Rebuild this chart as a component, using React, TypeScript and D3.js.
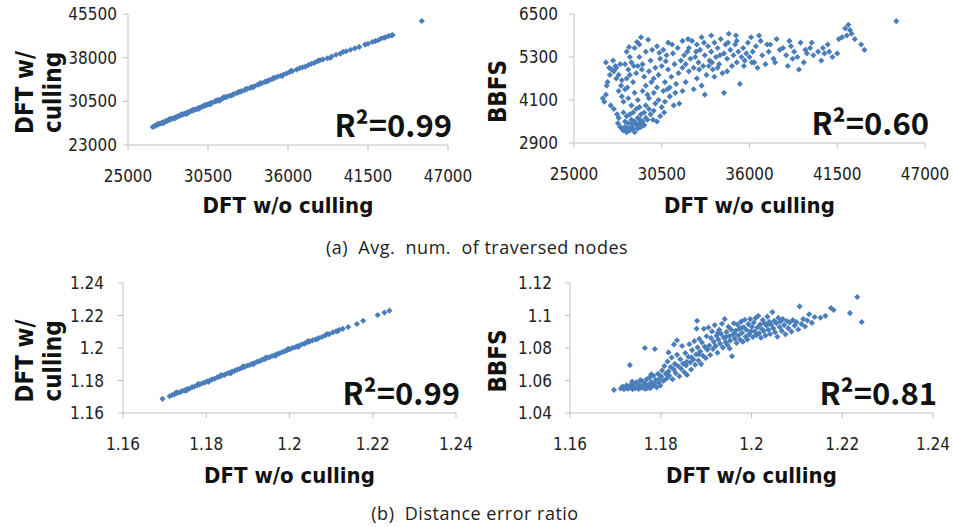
import React from "react";
import * as d3 from "d3";

// (a) average number of traversed nodes
const nodesXTicks = [25000, 30500, 36000, 41500, 47000];
const nodesCullYTicks = [23000, 30500, 38000, 45500];
const nodesBbfsYTicks = [2900, 4100, 5300, 6500];

const nodesCulling: [number, number][] = [
  [26700, 26100], [26800, 26250], [26900, 26300], [27000, 26500], [27100, 26550], [27200, 26700],
  [27300, 26750], [27400, 26900], [27500, 26950], [27600, 27100], [27700, 27150], [27800, 27300],
  [27900, 27350], [28000, 27500], [28100, 27550], [28200, 27700], [28300, 27750], [28400, 27900],
  [28500, 27950], [28600, 28100], [28700, 28150], [28800, 28300], [28900, 28350], [29000, 28500],
  [29100, 28600], [29200, 28650], [29300, 28800], [29400, 28900], [29500, 28950], [29600, 29100],
  [29700, 29150], [29800, 29300], [29900, 29400], [30000, 29450], [30100, 29600], [30200, 29650],
  [30300, 29800], [30400, 29900], [30500, 29950], [30600, 30100], [30700, 30200], [30800, 30250],
  [31000, 30500], [31100, 30550], [31200, 30750], [31400, 30850], [31500, 31000], [31700, 31150],
  [31800, 31300], [32000, 31450], [32200, 31650], [32300, 31750], [32500, 31950], [32700, 32150],
  [32800, 32250], [33000, 32400], [33200, 32650], [33400, 32800], [33500, 32950], [33700, 33100],
  [33900, 33350], [34000, 33400], [34200, 33600], [34400, 33850], [34500, 33900], [34700, 34150],
  [34900, 34300], [35100, 34500], [35300, 34750], [35500, 34900], [35700, 35100], [35900, 35300],
  [36100, 35500], [36300, 35700], [36600, 35950], [36800, 36200], [37000, 36350], [37400, 36750],
  [37600, 36950], [37800, 37100], [38000, 37350], [38200, 37550], [38400, 37700], [38700, 37900],
  [39000, 38200], [39300, 38500], [39600, 38700], [40000, 39100], [40300, 39350], [40600, 39600],
  [40900, 39850], [41500, 40400], [41800, 40700], [42000, 40850], [42200, 41000], [42400, 41300],
  [42700, 41500], [42900, 41700], [43100, 41800], [43200, 41900], [45200, 44300],
  [27050, 26650], [27450, 26750], [27850, 27450], [28250, 27600], [28650, 28250], [29050, 28350],
  [29450, 29050], [29850, 29200], [30250, 29800], [30650, 29950], [31050, 30650], [31300, 30600],
  [31600, 31250], [32100, 31500], [32600, 32100], [33100, 32600], [33600, 32900], [34100, 33650],
  [34600, 33950], [35000, 34550], [35600, 34850], [36200, 35750], [37200, 36450], [38100, 37500],
  [38900, 37950], [39800, 39000], [41300, 40250], [42600, 41400],
];

const nodesBbfs: [number, number][] = [
  [26800, 4150], [26900, 4050], [27000, 4250], [27050, 4500], [27100, 4600], [27000, 5150],
  [27200, 5000], [27350, 4950], [27450, 5200], [27500, 4900], [27600, 5050], [27300, 3950],
  [27500, 3850], [27700, 3700], [27800, 3600], [27750, 3450], [27900, 3350], [27650, 4700],
  [27800, 4800], [27900, 5100],
  [28000, 3300], [28100, 3250], [28200, 3350], [28300, 3200], [28400, 3300], [28500, 3250],
  [28600, 3350], [28700, 3300], [28800, 3200], [28900, 3400], [29000, 3300], [29100, 3450],
  [29200, 3350], [29300, 3500], [29400, 3400], [29500, 3600], [28200, 3500], [28400, 3450],
  [28600, 3550], [28800, 3500], [29000, 3600], [29200, 3700], [28300, 3650], [28500, 3700],
  [28700, 3750], [29400, 3750], [29600, 3550], [29800, 3700], [29700, 3850], [30000, 3800],
  [30200, 3500], [30400, 3650], [28100, 3750], [28900, 3850], [29100, 3900], [29500, 3950],
  [30100, 4000], [30500, 3900],
  [28000, 4200], [28100, 4050], [28200, 4400], [28300, 4700], [28400, 4950], [28200, 5100],
  [28500, 5300], [28600, 5150], [28700, 4600], [28800, 4300], [28900, 4850], [29000, 5050],
  [28800, 5550], [29100, 5300], [29200, 5850], [29300, 5100], [29400, 4750], [29500, 4500],
  [29600, 4250], [29700, 4900], [29800, 5200], [29900, 5500], [30000, 4700], [30100, 5000],
  [30200, 4450], [30300, 4800], [30400, 5250], [30500, 5050], [30600, 4350], [30700, 4600],
  [30800, 5350], [30900, 4950], [31000, 4200], [31100, 4750], [31200, 5400], [31300, 5100],
  [31400, 4550], [31500, 5550], [28400, 4150], [28600, 3950], [29000, 4100], [29300, 4350],
  [29700, 4150], [30000, 4300], [30300, 4100], [30700, 4050], [31000, 4450], [31600, 4000],
  [31800, 4350], [29100, 5650], [29500, 5450], [30200, 5600], [30600, 5500], [28300, 5450],
  [27800, 4350], [28000, 4650], [28500, 4800], [30900, 5700], [31800, 5000],
  [31700, 5200], [31900, 5350], [32000, 5100], [32100, 5450], [32200, 4900], [32300, 5250],
  [32400, 5750], [32500, 5000], [32600, 5300], [32700, 4700], [32800, 5150], [32900, 5500],
  [33000, 5850], [33100, 5050], [33200, 5350], [33300, 4800], [33400, 5600], [33500, 5200],
  [33600, 5450], [33700, 4950], [33800, 5700], [33900, 5300], [34000, 5550], [34100, 5100],
  [34200, 5800], [34300, 4850], [34400, 5400], [34500, 5650], [34600, 5250], [34700, 5950],
  [34800, 5500], [34900, 5050], [35000, 5350], [35100, 5650], [35200, 5150], [35300, 5450],
  [35400, 4550], [35500, 5300], [35600, 5550], [35700, 5200], [35800, 5400], [35900, 5700],
  [36000, 5300], [32000, 4600], [32500, 4400], [33000, 4500], [33800, 4750], [34400, 4300],
  [33200, 4250], [34600, 4900], [33600, 5900], [32700, 5650], [31800, 5750], [32200, 5550],
  [35200, 5750], [34000, 5000],
  [36100, 5850], [36200, 5450], [36300, 5150], [36400, 5600], [36500, 5000], [36700, 5750],
  [36800, 5350], [37000, 5100], [37200, 5450], [37300, 5650], [37500, 5250], [37700, 5800],
  [37900, 5500], [38100, 5550], [38300, 5350], [38400, 5050], [38600, 5600], [38800, 5450],
  [39000, 5300], [39200, 5700], [39400, 5150], [39600, 5400], [39800, 5550], [40000, 5350],
  [40300, 5450], [40500, 5200], [40700, 5400], [40900, 5650], [41200, 5300], [41500, 5400],
  [41600, 5800], [41800, 5850], [42000, 6100], [42100, 5900], [42200, 6200], [42300, 6050],
  [42400, 5950], [42600, 5800], [43000, 5650], [43200, 5500], [45200, 6300], [38500, 5750],
  [39900, 5700], [40600, 5550], [41000, 5450], [37600, 5150], [36600, 5900], [39100, 4950],
  [28450, 5580], [28950, 5720], [29650, 5780], [30350, 5420], [30750, 5180], [31150, 5650],
  [31550, 4850], [31350, 4300], [30850, 4400], [29850, 4600], [29250, 4950], [28750, 5050],
  [28350, 4450], [27950, 4500], [32150, 5800], [32650, 5450], [33150, 5700], [33650, 5150],
  [34150, 5350], [34650, 5700], [35150, 5900], [35650, 5050], [36150, 5150], [33450, 5050],
  [32850, 4950], [31250, 3950], [30650, 3750], [29950, 3550], [28650, 3450], [29150, 3550],
  [27650, 5000], [27250, 4800], [38700, 5250], [37100, 5650], [39500, 5500],
];

// (b) distance error ratio
const ratioXTicks = [1.16, 1.18, 1.2, 1.22, 1.24];
const ratioCullYTicks = [1.16, 1.18, 1.2, 1.22, 1.24];
const ratioBbfsYTicks = [1.04, 1.06, 1.08, 1.1, 1.12];

const ratioCulling: [number, number][] = [
  [1.1695, 1.1687], [1.1712, 1.1703], [1.1718, 1.1711], [1.1724, 1.1715], [1.173, 1.1723],
  [1.1736, 1.1727], [1.1742, 1.1735], [1.1748, 1.1739], [1.1754, 1.1747], [1.176, 1.1751],
  [1.1766, 1.1759], [1.1772, 1.1763], [1.1778, 1.1771], [1.1784, 1.1775], [1.179, 1.1783],
  [1.1796, 1.1787], [1.1802, 1.1795], [1.1808, 1.1799], [1.1814, 1.1807], [1.182, 1.1811],
  [1.1826, 1.1819], [1.1832, 1.1823], [1.1838, 1.1831], [1.1844, 1.1835], [1.185, 1.1843],
  [1.1856, 1.1847], [1.1862, 1.1855], [1.1868, 1.1859], [1.1874, 1.1867], [1.188, 1.1871],
  [1.1886, 1.1879], [1.1892, 1.1883], [1.1898, 1.1891], [1.1904, 1.1895], [1.191, 1.1903],
  [1.1916, 1.1907], [1.1922, 1.1915], [1.1928, 1.1919], [1.1934, 1.1927], [1.194, 1.1931],
  [1.1946, 1.1939], [1.1952, 1.1943], [1.1958, 1.1951], [1.1964, 1.1955], [1.197, 1.1963],
  [1.1976, 1.1967], [1.1982, 1.1975], [1.1988, 1.1979], [1.1994, 1.1987], [1.2, 1.1991],
  [1.2006, 1.1999], [1.2012, 1.2003], [1.2018, 1.2011], [1.2024, 1.2015], [1.203, 1.2023],
  [1.2036, 1.2027], [1.2042, 1.2035], [1.2048, 1.2039], [1.2055, 1.2047], [1.2062, 1.2052],
  [1.207, 1.2061], [1.2078, 1.2068], [1.2086, 1.2078], [1.2095, 1.2085], [1.2104, 1.2096],
  [1.2112, 1.2103], [1.212, 1.2112], [1.2128, 1.2118], [1.2141, 1.2129], [1.2162, 1.2148],
  [1.2177, 1.2168], [1.2212, 1.2203], [1.2228, 1.2218], [1.224, 1.223],
  [1.1728, 1.1727], [1.1752, 1.1737], [1.1781, 1.1779], [1.1805, 1.1791], [1.1835, 1.1833],
  [1.1859, 1.1845], [1.1889, 1.1887], [1.1913, 1.1899], [1.1943, 1.1941], [1.1967, 1.1953],
  [1.1997, 1.1995], [1.2021, 1.2007], [1.2045, 1.2043], [1.2066, 1.2054], [1.209, 1.2086],
  [1.2116, 1.2104],
];

const ratioBbfs: [number, number][] = [
  [1.1697, 1.0542], [1.1732, 1.0695], [1.1765, 1.08], [1.1787, 1.0794],
  [1.1712, 1.0551], [1.1716, 1.0563], [1.1719, 1.0546], [1.1723, 1.0557], [1.1725, 1.0571],
  [1.1727, 1.0549], [1.1731, 1.0561], [1.1733, 1.0554], [1.1736, 1.0578], [1.1738, 1.0547],
  [1.1741, 1.0566], [1.1744, 1.0553], [1.1746, 1.0589], [1.1749, 1.0561], [1.1751, 1.0548],
  [1.1753, 1.0572], [1.1757, 1.0556], [1.1759, 1.0596], [1.1761, 1.0564], [1.1764, 1.0551],
  [1.1766, 1.0581], [1.1769, 1.0607], [1.1771, 1.0559], [1.1773, 1.0572], [1.1775, 1.0618],
  [1.1777, 1.0553], [1.1779, 1.0591], [1.1782, 1.0566], [1.1784, 1.0629], [1.1786, 1.0578],
  [1.1789, 1.0604], [1.1791, 1.0557], [1.1794, 1.0641], [1.1796, 1.0586], [1.1798, 1.0612],
  [1.1799, 1.0569], [1.1737, 1.0593], [1.1755, 1.0602], [1.1768, 1.0549], [1.1779, 1.0638],
  [1.1801, 1.0625], [1.1803, 1.0662], [1.1806, 1.0598], [1.1808, 1.0689], [1.1811, 1.0641],
  [1.1813, 1.0612], [1.1815, 1.0717], [1.1817, 1.0656], [1.1819, 1.0629], [1.1822, 1.0683],
  [1.1824, 1.0741], [1.1826, 1.0608], [1.1829, 1.0667], [1.1831, 1.0702], [1.1833, 1.0645],
  [1.1836, 1.0758], [1.1838, 1.0689], [1.1841, 1.0626], [1.1843, 1.0731], [1.1845, 1.0672],
  [1.1847, 1.0812], [1.1849, 1.0704], [1.1852, 1.0651], [1.1854, 1.0769], [1.1856, 1.0692],
  [1.1858, 1.0634], [1.1861, 1.0746], [1.1863, 1.0823], [1.1865, 1.0711], [1.1867, 1.0668],
  [1.1869, 1.0787], [1.1872, 1.0729], [1.1874, 1.0842], [1.1876, 1.0697], [1.1878, 1.0761],
  [1.188, 1.0968], [1.1881, 1.0804], [1.1883, 1.0723], [1.1885, 1.0856], [1.1887, 1.0779],
  [1.1889, 1.0701], [1.1891, 1.0834], [1.1893, 1.0752], [1.1895, 1.0918], [1.1897, 1.0807],
  [1.1899, 1.0738], [1.1857, 1.0715], [1.1868, 1.0742], [1.1884, 1.0762], [1.1879, 1.0919],
  [1.1836, 1.0848], [1.1829, 1.0822], [1.1817, 1.0773],
  [1.1901, 1.0872], [1.1903, 1.0789], [1.1905, 1.0926], [1.1907, 1.0815], [1.1909, 1.0757],
  [1.1911, 1.0861], [1.1913, 1.0902], [1.1915, 1.0794], [1.1917, 1.0838], [1.1919, 1.0941],
  [1.1921, 1.0812], [1.1923, 1.0876], [1.1925, 1.0771], [1.1927, 1.0853], [1.1929, 1.0912],
  [1.1931, 1.0826], [1.1933, 1.0887], [1.1935, 1.0949], [1.1937, 1.0803], [1.1939, 1.0864],
  [1.1941, 1.0978], [1.1943, 1.0836], [1.1945, 1.0898], [1.1947, 1.0819], [1.1949, 1.0931],
  [1.1951, 1.0872], [1.1953, 1.0845], [1.1955, 1.0914], [1.1957, 1.0749], [1.1959, 1.0883],
  [1.1961, 1.0952], [1.1963, 1.0858], [1.1965, 1.0906], [1.1967, 1.0831], [1.1969, 1.0944],
  [1.1971, 1.0877], [1.1973, 1.0918], [1.1975, 1.0851], [1.1977, 1.0962], [1.1979, 1.0893],
  [1.1981, 1.0839], [1.1983, 1.0928], [1.1985, 1.0974], [1.1987, 1.0869], [1.1989, 1.0911],
  [1.1991, 1.0852], [1.1993, 1.0947], [1.1995, 1.0884], [1.1997, 1.0978], [1.1999, 1.0903],
  [1.1944, 1.0868], [1.1962, 1.0889], [1.1978, 1.0924], [1.1926, 1.0895], [1.1952, 1.0797],
  [1.2001, 1.0931], [1.2003, 1.0868], [1.2005, 1.0957], [1.2007, 1.0902], [1.2009, 1.0984],
  [1.2011, 1.0879], [1.2013, 1.0926], [1.2015, 1.0998], [1.2017, 1.0891], [1.2019, 1.0945],
  [1.2021, 1.0863], [1.2023, 1.0917], [1.2025, 1.0972], [1.2027, 1.0904], [1.2029, 1.0951],
  [1.2031, 1.0877], [1.2033, 1.0939], [1.2035, 1.0993], [1.2037, 1.0912], [1.2039, 1.0961],
  [1.2041, 1.0886], [1.2043, 1.0944], [1.2046, 1.1021], [1.2048, 1.0921], [1.205, 1.0968],
  [1.2052, 1.0897], [1.2055, 1.0952], [1.2057, 1.0869], [1.2059, 1.0985], [1.2062, 1.0929],
  [1.2064, 1.0963], [1.2067, 1.0905], [1.2069, 1.0978], [1.2072, 1.0941], [1.2075, 1.0884],
  [1.2078, 1.0966], [1.2081, 1.0922], [1.2084, 1.0957], [1.2088, 1.0901], [1.2091, 1.0972],
  [1.2095, 1.0938], [1.2099, 1.0959], [1.2103, 1.0914], [1.2106, 1.1056], [1.211, 1.0947],
  [1.2114, 1.0978], [1.2118, 1.0932], [1.2123, 1.0969], [1.2127, 1.1008], [1.2133, 1.0955],
  [1.2139, 1.0991], [1.2152, 1.0986], [1.2163, 1.0998], [1.2175, 1.1046], [1.2181, 1.1034],
  [1.2217, 1.1015], [1.2233, 1.1114], [1.2243, 1.096],
];

const pointColor = "#4a7ebb";
const axisColor = "#bfbfbf";
const tickFont = "'DejaVu Sans Condensed', 'DejaVu Sans', sans-serif";
const r2Font = "'Noto Sans CJK KR', 'Noto Sans', sans-serif";
const capFont = "'Open Sans', Lato, sans-serif";

type PanelProps = {
  data: [number, number][];
  xTicks: number[];
  yTicks: number[];
  left: number;
  right: number;
  top: number;
  bottom: number;
  yLabelGap: number;
  yTitle: string[];
  yTitleX: number;
  xTitleY: number;
  r2: string;
};

const marker = d3.symbol().type(d3.symbolDiamond2).size(24)() as string;

function Panel(p: PanelProps) {
  const x = d3.scaleLinear().domain(d3.extent(p.xTicks) as [number, number]).range([p.left, p.right]);
  const y = d3.scaleLinear().domain(d3.extent(p.yTicks) as [number, number]).range([p.bottom, p.top]);
  const midY = (p.top + p.bottom) / 2;
  const midX = (p.left + p.right) / 2;
  return (
    <g>
      <line x1={p.left} x2={p.left} y1={p.top} y2={p.bottom} stroke={axisColor} />
      <line x1={p.left} x2={p.right} y1={p.bottom} y2={p.bottom} stroke={axisColor} />
      {p.yTicks.map((t) => (
        <g key={"y" + t}>
          <line x1={p.left - 5} x2={p.left} y1={y(t)} y2={y(t)} stroke={axisColor} />
          <text x={p.left - p.yLabelGap} y={y(t)} dy="0.36em" textAnchor="end"
            fontFamily={tickFont} fontSize={17} fill="#222">{String(t)}</text>
        </g>
      ))}
      {p.xTicks.map((t) => (
        <g key={"x" + t}>
          <line x1={x(t)} x2={x(t)} y1={p.bottom} y2={p.bottom + 5} stroke={axisColor} />
          <text x={x(t)} y={p.bottom + 37} textAnchor="middle"
            fontFamily={tickFont} fontSize={17} fill="#222">{String(t)}</text>
        </g>
      ))}
      {p.data.map((d, i) => (
        <path key={i} d={marker} transform={`translate(${x(d[0])},${y(d[1])})`} fill={pointColor} />
      ))}
      <text x={p.right + 4} y={p.bottom - 8} textAnchor="end" fontFamily={r2Font}
        fontWeight={700} fontSize={31} fill="#111">{p.r2}</text>
      <text x={midX} y={p.xTitleY} textAnchor="middle" fontFamily={tickFont}
        fontWeight={700} fontSize={22} fill="#111">DFT w/o culling</text>
      {p.yTitle.map((s, i) => (
        <text key={s} transform={`translate(${p.yTitleX + i * 28},${midY + 13}) rotate(-90)`}
          textAnchor="middle" fontFamily={tickFont} fontWeight={700} fontSize={24} fill="#111">{s}</text>
      ))}
    </g>
  );
}

export default function App() {
  return (
    <svg width={953} height={527} style={{ position: "absolute", left: 0, top: 0, background: "#fff" }}>
      <Panel data={nodesCulling} xTicks={nodesXTicks} yTicks={nodesCullYTicks}
        left={128} right={448} top={14} bottom={145} yLabelGap={11}
        yTitle={["DFT w/", "culling"]} yTitleX={33} xTitleY={213} r2="R²=0.99" />
      <Panel data={nodesBbfs} xTicks={nodesXTicks} yTicks={nodesBbfsYTicks}
        left={574} right={925} top={14} bottom={143} yLabelGap={16}
        yTitle={["BBFS"]} yTitleX={506} xTitleY={213} r2="R²=0.60" />
      <Panel data={ratioCulling} xTicks={ratioXTicks} yTicks={ratioCullYTicks}
        left={123} right={456} top={283} bottom={413} yLabelGap={19}
        yTitle={["DFT w/", "culling"]} yTitleX={33} xTitleY={483} r2="R²=0.99" />
      <Panel data={ratioBbfs} xTicks={ratioXTicks} yTicks={ratioBbfsYTicks}
        left={570} right={933} top={283} bottom={413} yLabelGap={18}
        yTitle={["BBFS"]} yTitleX={506} xTitleY={483} r2="R²=0.81" />
      <text x={477} y={254} textAnchor="middle" fontFamily={capFont} fontSize={18}
        letterSpacing={0.5} fill="#222" xmlSpace="preserve">{"(a)  Avg.  num.  of traversed nodes"}</text>
      <text x={475} y={520} textAnchor="middle" fontFamily={capFont} fontSize={18}
        letterSpacing={0.5} fill="#222" xmlSpace="preserve">{"(b)  Distance error ratio"}</text>
    </svg>
  );
}
